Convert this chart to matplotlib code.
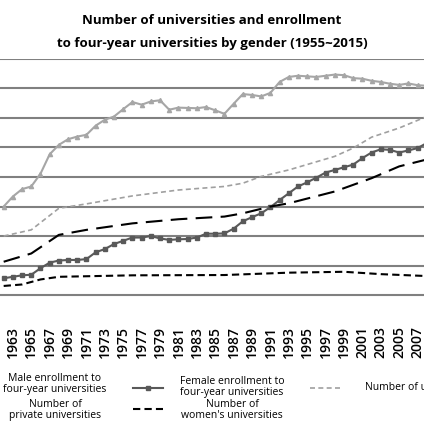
import matplotlib
matplotlib.use("Agg")
import matplotlib.pyplot as plt
from matplotlib.lines import Line2D

plt.rcParams['font.family'] = ['Open Sans', 'DejaVu Sans']

years = list(range(1962, 2011))
male = [300,334,359,368,411,477,509,528,537,543,574,594,605,630,654,645,656,660,628,635,634,633,
        637,626,614,648,681,678,673,685,722,739,743,741,739,743,747,745,735,733,726,722,716,712,
        717,711,709,699,698]
female = [57,62,67,69,91,110,117,119,119,122,145,156,173,184,195,195,200,192,187,189,190,195,208,
          208,209,225,250,264,277,298,322,345,368,382,398,415,424,433,442,464,483,494,492,483,490,
          498,515,515,515]
univ_years = [1962,1965,1968,1971,1976,1981,1986,1988,1990,1993,1998,2000,2002,2005,2008,2010]
univ = [200,221,294,309,336,356,368,379,402,424,470,498,535,566,605,619]
priv_years = [1962,1965,1968,1971,1976,1981,1986,1988,1991,1993,1998,2002,2005,2010]
priv = [113,141,204,221,243,257,266,277,300,311,351,396,436,475]
women_years = [1962,1964,1966,1968,1976,1986,1993,1999,2003,2010]
women = [31,36,53,62,67,68,76,79,71,62]
tick_years = list(range(1963, 2009, 2))

fig = plt.figure(figsize=(4.24, 4.24), dpi=100)
ax = fig.add_axes([0, 0.304, 1, 0.557])
ax.plot(years, male, color='#a6a6a6', lw=1.5, marker='^', ms=3)
ax.plot(years, female, color='#595959', lw=1.5, marker='s', ms=3.5)
ax.plot(univ_years, univ, color='#a0a0a0', lw=1.2, dashes=(3, 2))
ax.plot(priv_years, priv, color='black', lw=1.5, dashes=(8, 4))
ax.plot(women_years, women, color='black', lw=1.5, dashes=(3.5, 2))
ax.set_xlim(1961.6, 2007.7)
ax.set_ylim(0, 800)
ax.set_yticks(range(0, 801, 100))
ax.yaxis.grid(True, color='#808080', lw=1.5)
ax.set_axisbelow(True)
ax.tick_params(axis='y', left=False, labelleft=False)
ax.set_xticks(tick_years)
ax.set_xticklabels([str(y) for y in tick_years], rotation=90, fontsize=10, fontweight='semibold')
ax.tick_params(axis='x', length=0, pad=22)
for s in ['left', 'right', 'top']:
    ax.spines[s].set_visible(False)
ax.spines['bottom'].set_color('#808080')

fig.text(0.5, 1 - 20/424, 'Number of universities and enrollment', ha='center', va='center',
         fontsize=9.5, fontweight='bold')
fig.text(0.5, 1 - 43/424, 'to four-year universities by gender (1955~2015)', ha='center',
         va='center', fontsize=9.5, fontweight='bold')

def fy(p):
    return 1 - p/424

def fx(p):
    return p/424

fs = 7.5
fig.text(fx(55), fy(384), 'Male enrollment to\nfour-year universities', ha='center', va='center', fontsize=fs, linespacing=1.05)
fig.text(fx(55), fy(410), 'Number of\nprivate universities', ha='center', va='center', fontsize=fs, linespacing=1.05)
fig.text(fx(232), fy(387), 'Female enrollment to\nfour-year universities', ha='center', va='center', fontsize=fs, linespacing=1.05)
fig.text(fx(232), fy(410), 'Number of\nwomen\'s universities', ha='center', va='center', fontsize=fs, linespacing=1.05)
fig.text(fx(365), fy(387), 'Number of universities', ha='left', va='center', fontsize=fs)
fig.add_artist(Line2D([fx(133), fx(163)], [fy(388), fy(388)], color='#595959', lw=1.5,
                      transform=fig.transFigure))
fig.add_artist(Line2D([fx(148)], [fy(388)], color='#595959', marker='s', ms=3.5, transform=fig.transFigure))
fig.add_artist(Line2D([fx(133), fx(163)], [fy(409), fy(409)], color='black', lw=1.5,
                      dashes=(3.5, 2), transform=fig.transFigure))
fig.add_artist(Line2D([fx(310), fx(342)], [fy(388), fy(388)], color='#a0a0a0', lw=1.2,
                      dashes=(3, 2), transform=fig.transFigure))

fig.savefig('out.png', dpi=100)
